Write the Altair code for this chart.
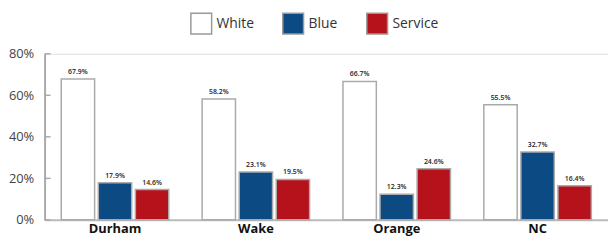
import altair as alt
import pandas as pd

counties = ["Durham", "Wake", "Orange", "NC"]
groups = ["White", "Blue", "Service"]
white = [67.9, 58.2, 66.7, 55.5]
blue = [17.9, 23.1, 12.3, 32.7]
service = [14.6, 19.5, 24.6, 16.4]
colors = ["#ffffff", "#0b4a82", "#b5121b"]
yticks = [0, 20, 40, 60, 80]

rows = []
for i, c in enumerate(counties):
    for g, vals in zip(groups, [white, blue, service]):
        rows.append({"county": c, "group": g, "value": vals[i],
                     "label": f"{vals[i]:.1f}%"})
df = pd.DataFrame(rows)
ticks_df = pd.DataFrame({"v": yticks})

FONT = "Open Sans"

x = alt.X("county:N", sort=counties, title=None,
          scale=alt.Scale(paddingInner=0, paddingOuter=0),
          axis=alt.Axis(labelFontWeight="bold", labelFontSize=13, labelColor="#111",
                        labelAngle=0, ticks=False, labelPadding=3,
                        domainColor="#bbbbbb", domainWidth=2, labelFont=FONT))
xo = alt.XOffset("group:N", sort=groups,
                 scale=alt.Scale(paddingInner=0.1, paddingOuter=0.45))
y = alt.Y("value:Q", title=None,
          scale=alt.Scale(domain=[0, 80]),
          axis=alt.Axis(values=yticks, labelExpr="datum.value + '%'", grid=False,
                        ticks=False, labelPadding=11, labelFontSize=13,
                        labelColor="#444", domainColor="#aaaaaa", domainWidth=2,
                        labelFont=FONT))

bars = alt.Chart(df).mark_bar(stroke="#aaaaaa", strokeWidth=1.5).encode(
    x=x, xOffset=xo, y=y,
    color=alt.Color("group:N", sort=groups,
                    scale=alt.Scale(domain=groups, range=colors),
                    legend=alt.Legend(title=None, orient="none", direction="horizontal",
                                      legendX=147, legendY=-42,
                                      symbolType="square", symbolSize=441,
                                      symbolStrokeColor="#999999", symbolStrokeWidth=1.5,
                                      labelFontSize=14, labelFont=FONT, labelColor="#333",
                                      labelOffset=4, columnPadding=26)),
)

labels = alt.Chart(df).mark_text(dy=-4, fontSize=7, color="#222", font=FONT,
                                 fontWeight=600, baseline="bottom").encode(
    x=alt.X("county:N", sort=counties), xOffset=alt.XOffset("group:N", sort=groups),
    y=alt.Y("value:Q"), text="label:N")

yt = alt.Chart(ticks_df).mark_rule(color="#aaaaaa", strokeWidth=1.5).encode(
    y=alt.Y("v:Q"), x=alt.value(0), x2=alt.value(6))

chart = alt.layer(bars, labels, yt).properties(
    width=570, height=168,
    padding={"top": 3, "left": 0, "right": 0, "bottom": 0},
).configure_view(stroke=None).configure(font=FONT)

chart.save("out.html", embed_options={"renderer": "svg", "actions": False})
